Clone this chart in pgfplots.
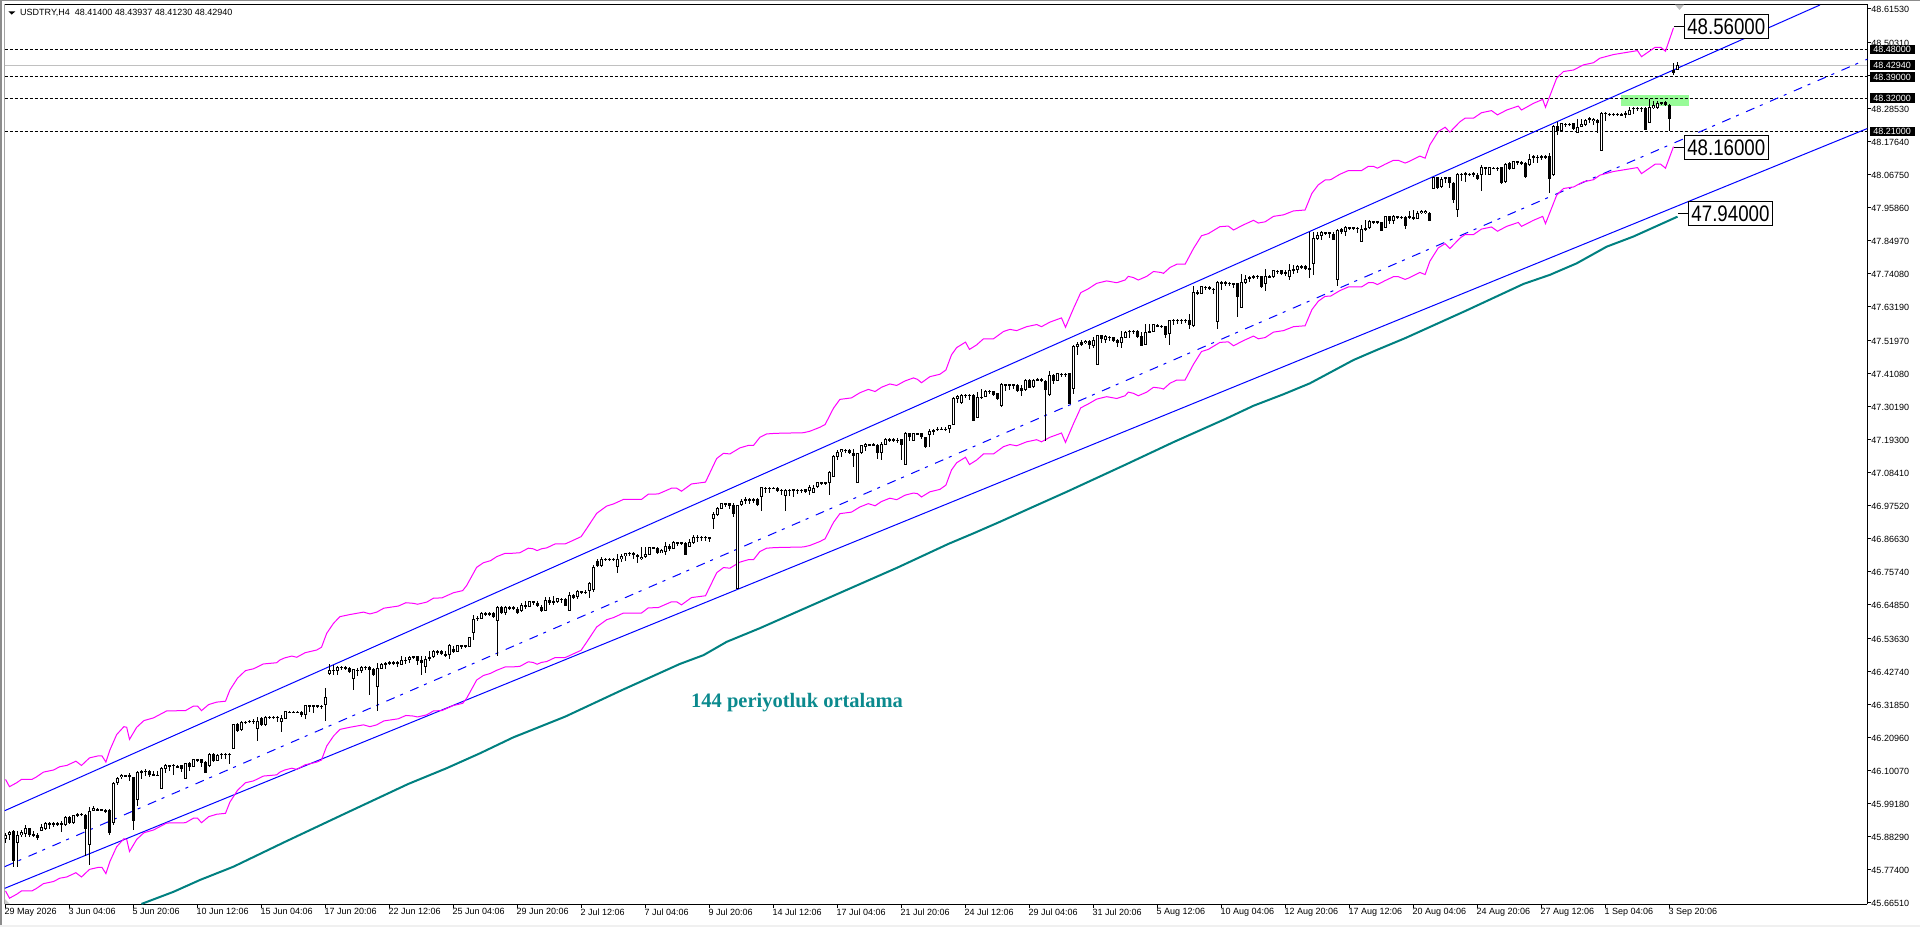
\documentclass[border=0pt]{standalone}
\usepackage{pgfplots}
\usepackage{pgfplotstable}
\usepackage{graphicx}
\usepackage{fontspec}
\setmainfont{Liberation Sans}
\newfontfamily\titlefont{Liberation Serif}
\pgfplotsset{compat=1.18}
\definecolor{envc}{HTML}{FF00FF}
\definecolor{mac}{HTML}{008080}
\definecolor{txc}{HTML}{0B8A8E}
\definecolor{chan}{HTML}{0000FF}
\definecolor{zone}{HTML}{98FB98}
\pgfplotstableread{
n o h l c
0 45.876 45.894 45.861 45.890
1 45.889 45.903 45.872 45.900
2 45.903 45.905 45.784 45.804
3 45.861 45.903 45.782 45.887
4 45.887 45.905 45.883 45.898
5 45.892 45.920 45.883 45.911
6 45.911 45.913 45.883 45.889
7 45.892 45.903 45.883 45.887
8 45.887 45.896 45.872 45.879
9 45.903 45.925 45.901 45.914
10 45.909 45.931 45.905 45.927
11 45.928 45.930 45.909 45.925
12 45.928 45.930 45.916 45.925
13 45.927 45.931 45.918 45.924
14 45.928 45.934 45.900 45.925
15 45.920 45.951 45.918 45.949
16 45.949 45.951 45.925 45.927
17 45.927 45.956 45.925 45.953
18 45.957 45.962 45.949 45.954
19 45.958 45.960 45.953 45.955
20 45.956 45.958 45.819 45.909
21 45.854 45.982 45.791 45.969
22 45.969 45.984 45.967 45.978
23 45.974 45.976 45.969 45.971
24 45.973 45.975 45.967 45.970
25 45.971 45.975 45.960 45.967
26 45.971 45.973 45.887 45.896
27 45.929 46.063 45.920 46.061
28 46.061 46.081 46.052 46.077
29 46.079 46.090 46.072 46.087
30 46.085 46.087 46.079 46.082
31 46.085 46.092 46.066 46.081
32 46.079 46.081 45.905 45.936
33 46.004 46.099 45.984 46.096
34 46.095 46.103 46.074 46.101
35 46.101 46.105 46.083 46.098
36 46.101 46.103 46.079 46.086
37 46.090 46.099 46.083 46.085
38 46.088 46.101 46.083 46.085
39 46.041 46.112 46.041 46.110
40 46.107 46.123 46.094 46.118
41 46.118 46.120 46.101 46.115
42 46.121 46.123 46.088 46.118
43 46.116 46.118 46.112 46.113
44 46.118 46.121 46.096 46.105
45 46.074 46.127 46.074 46.125
46 46.125 46.129 46.099 46.114
47 46.114 46.140 46.112 46.138
48 46.138 46.140 46.129 46.135
49 46.138 46.140 46.114 46.125
50 46.129 46.134 46.094 46.094
51 46.116 46.158 46.112 46.156
52 46.156 46.158 46.132 46.134
53 46.134 46.156 46.132 46.154
54 46.156 46.158 46.140 46.153
55 46.156 46.158 46.140 46.153
56 46.156 46.158 46.123 46.153
57 46.173 46.256 46.173 46.254
58 46.255 46.259 46.228 46.233
59 46.235 46.264 46.233 46.261
60 46.262 46.265 46.255 46.259
61 46.265 46.267 46.257 46.262
62 46.265 46.272 46.255 46.262
63 46.239 46.277 46.200 46.264
64 46.275 46.279 46.250 46.253
65 46.252 46.280 46.248 46.278
66 46.279 46.281 46.270 46.276
67 46.279 46.281 46.270 46.276
68 46.279 46.281 46.261 46.276
69 46.263 46.283 46.228 46.275
70 46.272 46.299 46.272 46.297
71 46.296 46.299 46.290 46.293
72 46.296 46.299 46.290 46.293
73 46.296 46.299 46.290 46.293
74 46.294 46.299 46.277 46.283
75 46.283 46.319 46.272 46.316
76 46.316 46.319 46.294 46.313
77 46.316 46.319 46.292 46.313
78 46.316 46.319 46.308 46.313
79 46.315 46.317 46.305 46.312
80 46.316 46.374 46.266 46.343
81 46.420 46.453 46.418 46.433
82 46.433 46.448 46.418 46.430
83 46.431 46.446 46.418 46.444
84 46.444 46.446 46.433 46.441
85 46.444 46.446 46.433 46.438
86 46.440 46.444 46.422 46.426
87 46.402 46.437 46.367 46.435
88 46.434 46.439 46.413 46.431
89 46.431 46.446 46.424 46.444
90 46.444 46.446 46.433 46.441
91 46.444 46.446 46.349 46.433
92 46.436 46.440 46.415 46.418
93 46.378 46.457 46.299 46.440
94 46.436 46.456 46.435 46.452
95 46.455 46.459 46.435 46.452
96 46.458 46.462 46.451 46.454
97 46.458 46.462 46.448 46.455
98 46.459 46.464 46.444 46.456
99 46.451 46.479 46.448 46.466
100 46.466 46.477 46.453 46.463
101 46.466 46.479 46.455 46.477
102 46.478 46.480 46.468 46.475
103 46.478 46.480 46.451 46.464
104 46.466 46.479 46.418 46.457
105 46.444 46.479 46.424 46.470
106 46.475 46.497 46.464 46.468
107 46.475 46.499 46.473 46.495
108 46.496 46.499 46.482 46.491
109 46.496 46.499 46.482 46.485
110 46.485 46.497 46.479 46.480
111 46.481 46.519 46.470 46.514
112 46.501 46.512 46.490 46.492
113 46.494 46.517 46.492 46.514
114 46.514 46.517 46.501 46.511
115 46.514 46.517 46.506 46.511
116 46.510 46.543 46.508 46.541
117 46.556 46.613 46.532 46.600
118 46.606 46.611 46.594 46.600
119 46.602 46.624 46.600 46.622
120 46.622 46.624 46.613 46.616
121 46.620 46.624 46.613 46.614
122 46.620 46.624 46.607 46.609
123 46.594 46.644 46.479 46.642
124 46.642 46.644 46.618 46.620
125 46.620 46.644 46.613 46.640
126 46.640 46.644 46.631 46.637
127 46.640 46.644 46.631 46.633
128 46.635 46.640 46.618 46.620
129 46.629 46.655 46.624 46.646
130 46.647 46.660 46.635 46.642
131 46.642 46.662 46.640 46.660
132 46.660 46.662 46.649 46.657
133 46.655 46.660 46.640 46.644
134 46.642 46.646 46.624 46.627
135 46.629 46.673 46.627 46.664
136 46.664 46.673 46.646 46.653
137 46.662 46.677 46.649 46.655
138 46.659 46.672 46.655 46.670
139 46.668 46.670 46.655 46.665
140 46.667 46.670 46.645 46.645
141 46.629 46.690 46.629 46.679
142 46.679 46.684 46.666 46.671
143 46.673 46.697 46.668 46.693
144 46.693 46.695 46.684 46.689
145 46.691 46.697 46.686 46.688
146 46.693 46.723 46.671 46.719
147 46.697 46.781 46.690 46.772
148 46.792 46.800 46.774 46.776
149 46.776 46.805 46.774 46.800
150 46.800 46.802 46.792 46.797
151 46.800 46.802 46.792 46.797
152 46.800 46.802 46.792 46.797
153 46.774 46.816 46.754 46.800
154 46.798 46.816 46.789 46.809
155 46.809 46.820 46.794 46.818
156 46.820 46.822 46.809 46.816
157 46.818 46.822 46.800 46.811
158 46.812 46.816 46.787 46.805
159 46.800 46.838 46.796 46.807
160 46.807 46.840 46.803 46.815
161 46.814 46.840 46.811 46.838
162 46.838 46.840 46.834 46.835
163 46.837 46.839 46.819 46.820
164 46.820 46.833 46.818 46.828
165 46.822 46.855 46.814 46.842
166 46.842 46.849 46.825 46.831
167 46.833 46.858 46.831 46.855
168 46.854 46.856 46.842 46.851
169 46.854 46.856 46.844 46.851
170 46.853 46.855 46.814 46.814
171 46.840 46.866 46.838 46.855
172 46.853 46.877 46.849 46.873
173 46.873 46.877 46.855 46.870
174 46.872 46.875 46.860 46.869
175 46.872 46.875 46.860 46.869
176 46.871 46.873 46.855 46.868
177 46.930 46.954 46.899 46.948
178 46.946 46.972 46.941 46.968
179 46.965 46.985 46.963 46.983
180 46.983 46.985 46.970 46.980
181 46.983 46.985 46.963 46.974
182 46.976 46.985 46.937 46.948
183 46.699 46.979 46.699 46.976
184 46.976 46.998 46.974 46.990
185 46.996 47.003 46.981 46.992
186 46.996 47.001 46.981 46.993
187 46.996 47.001 46.983 46.993
188 46.996 47.001 46.976 46.979
189 47.005 47.038 46.957 47.036
190 47.035 47.037 47.016 47.032
191 47.035 47.037 47.018 47.032
192 47.035 47.037 47.031 47.032
193 47.034 47.038 47.020 47.025
194 47.027 47.029 47.009 47.024
195 47.007 47.029 46.959 47.027
196 47.027 47.029 47.007 47.024
197 47.029 47.031 47.003 47.026
198 47.028 47.031 47.014 47.025
199 47.028 47.031 47.016 47.025
200 47.029 47.031 47.018 47.020
201 47.025 47.042 47.012 47.036
202 47.018 47.045 47.016 47.034
203 47.036 47.055 47.034 47.052
204 47.052 47.055 47.042 47.049
205 47.052 47.055 47.045 47.049
206 47.051 47.089 47.012 47.086
207 47.071 47.141 47.069 47.139
208 47.137 47.159 47.126 47.152
209 47.151 47.163 47.137 47.161
210 47.159 47.161 47.148 47.156
211 47.159 47.161 47.146 47.150
212 47.150 47.161 47.104 47.139
213 47.049 47.150 47.049 47.148
214 47.148 47.177 47.146 47.174
215 47.170 47.181 47.155 47.179
216 47.178 47.180 47.174 47.175
217 47.178 47.182 47.172 47.175
218 47.177 47.179 47.128 47.148
219 47.150 47.185 47.126 47.179
220 47.177 47.199 47.174 47.196
221 47.195 47.197 47.185 47.192
222 47.194 47.199 47.185 47.191
223 47.193 47.199 47.183 47.190
224 47.194 47.196 47.126 47.177
225 47.108 47.218 47.108 47.216
226 47.214 47.216 47.188 47.203
227 47.190 47.216 47.190 47.214
228 47.215 47.216 47.211 47.212
229 47.214 47.216 47.196 47.201
230 47.201 47.203 47.166 47.168
231 47.207 47.229 47.170 47.221
232 47.225 47.229 47.210 47.218
233 47.230 47.236 47.221 47.227
234 47.230 47.236 47.225 47.227
235 47.229 47.234 47.223 47.226
236 47.229 47.243 47.216 47.240
237 47.243 47.333 47.243 47.331
238 47.328 47.342 47.313 47.337
239 47.313 47.344 47.311 47.342
240 47.342 47.344 47.331 47.339
241 47.342 47.344 47.324 47.337
242 47.341 47.343 47.254 47.254
243 47.264 47.350 47.264 47.333
244 47.335 47.359 47.328 47.331
245 47.335 47.357 47.333 47.355
246 47.354 47.356 47.344 47.351
247 47.353 47.355 47.339 47.342
248 47.346 47.348 47.326 47.328
249 47.304 47.379 47.302 47.377
250 47.376 47.378 47.355 47.373
251 47.376 47.378 47.357 47.373
252 47.376 47.378 47.361 47.373
253 47.375 47.377 47.353 47.355
254 47.364 47.375 47.337 47.355
255 47.357 47.392 47.355 47.390
256 47.390 47.392 47.364 47.364
257 47.366 47.392 47.364 47.390
258 47.392 47.397 47.386 47.389
259 47.392 47.397 47.383 47.389
260 47.388 47.390 47.190 47.357
261 47.339 47.419 47.337 47.405
262 47.405 47.410 47.377 47.388
263 47.388 47.414 47.386 47.412
264 47.411 47.413 47.399 47.408
265 47.411 47.413 47.401 47.408
266 47.412 47.414 47.311 47.311
267 47.359 47.504 47.344 47.502
268 47.500 47.515 47.471 47.509
269 47.515 47.522 47.504 47.507
270 47.511 47.522 47.509 47.520
271 47.520 47.522 47.493 47.504
272 47.502 47.533 47.496 47.522
273 47.441 47.540 47.441 47.537
274 47.537 47.540 47.511 47.524
275 47.522 47.537 47.513 47.535
276 47.533 47.535 47.520 47.529
277 47.531 47.533 47.518 47.520
278 47.522 47.526 47.500 47.511
279 47.513 47.551 47.496 47.531
280 47.530 47.552 47.527 47.550
281 47.553 47.555 47.530 47.550
282 47.552 47.554 47.541 47.549
283 47.553 47.555 47.530 47.532
284 47.534 47.547 47.503 47.503
285 47.505 47.576 47.505 47.547
286 47.552 47.576 47.545 47.545
287 47.549 47.576 47.547 47.574
288 47.571 47.574 47.565 47.568
289 47.569 47.571 47.563 47.566
290 47.567 47.569 47.530 47.538
291 47.543 47.589 47.505 47.587
292 47.589 47.591 47.571 47.586
293 47.589 47.591 47.576 47.586
294 47.589 47.591 47.576 47.586
295 47.589 47.591 47.578 47.586
296 47.589 47.609 47.558 47.571
297 47.567 47.701 47.565 47.679
298 47.681 47.686 47.670 47.675
299 47.675 47.701 47.673 47.699
300 47.698 47.700 47.688 47.695
301 47.696 47.700 47.686 47.693
302 47.692 47.695 47.675 47.686
303 47.580 47.717 47.558 47.714
304 47.713 47.716 47.686 47.710
305 47.713 47.716 47.701 47.710
306 47.711 47.713 47.701 47.708
307 47.709 47.711 47.695 47.706
308 47.709 47.711 47.598 47.664
309 47.629 47.739 47.629 47.712
310 47.710 47.736 47.706 47.725
311 47.725 47.734 47.712 47.730
312 47.733 47.735 47.723 47.730
313 47.734 47.736 47.723 47.731
314 47.732 47.734 47.695 47.697
315 47.708 47.756 47.684 47.732
316 47.732 47.736 47.725 47.729
317 47.730 47.754 47.728 47.752
318 47.751 47.753 47.739 47.748
319 47.752 47.754 47.736 47.739
320 47.747 47.752 47.732 47.739
321 47.730 47.772 47.719 47.752
322 47.750 47.769 47.739 47.756
323 47.752 47.769 47.743 47.767
324 47.766 47.768 47.756 47.763
325 47.767 47.769 47.752 47.756
326 47.758 47.879 47.728 47.755
327 47.772 47.877 47.737 47.860
328 47.857 47.877 47.853 47.868
329 47.866 47.882 47.853 47.879
330 47.878 47.880 47.868 47.875
331 47.877 47.879 47.860 47.873
332 47.873 47.879 47.853 47.853
333 47.721 47.888 47.701 47.886
334 47.888 47.893 47.873 47.879
335 47.879 47.897 47.866 47.895
336 47.894 47.896 47.884 47.891
337 47.894 47.896 47.884 47.891
338 47.893 47.895 47.875 47.890
339 47.846 47.901 47.846 47.888
340 47.892 47.917 47.884 47.885
341 47.891 47.917 47.888 47.915
342 47.914 47.916 47.904 47.911
343 47.914 47.916 47.904 47.911
344 47.910 47.912 47.882 47.882
345 47.893 47.932 47.891 47.930
346 47.930 47.932 47.904 47.915
347 47.915 47.934 47.906 47.932
348 47.930 47.932 47.921 47.927
349 47.929 47.931 47.925 47.926
350 47.928 47.930 47.889 47.898
351 47.932 47.949 47.922 47.925
352 47.929 47.951 47.920 47.922
353 47.922 47.949 47.920 47.942
354 47.940 47.951 47.938 47.949
355 47.940 47.950 47.938 47.948
356 47.942 47.944 47.914 47.914
357 48.021 48.061 48.021 48.059
358 48.059 48.061 48.021 48.024
359 48.026 48.061 48.024 48.052
360 48.059 48.061 48.039 48.054
361 48.059 48.061 48.024 48.039
362 48.041 48.043 47.975 47.984
363 47.951 48.072 47.929 48.070
364 48.070 48.072 48.046 48.067
365 48.073 48.075 48.043 48.070
366 48.071 48.074 48.063 48.068
367 48.074 48.076 48.059 48.068
368 48.065 48.072 48.050 48.054
369 48.068 48.098 48.015 48.092
370 48.092 48.094 48.065 48.089
371 48.068 48.094 48.065 48.092
372 48.091 48.093 48.085 48.088
373 48.091 48.093 48.081 48.088
374 48.092 48.094 48.037 48.039
375 48.043 48.105 48.041 48.103
376 48.107 48.109 48.083 48.085
377 48.087 48.114 48.085 48.112
378 48.112 48.114 48.101 48.109
379 48.109 48.112 48.098 48.106
380 48.107 48.109 48.057 48.059
381 48.098 48.136 48.096 48.120
382 48.125 48.134 48.105 48.128
383 48.127 48.134 48.107 48.124
384 48.123 48.131 48.116 48.128
385 48.129 48.131 48.118 48.126
386 48.129 48.140 48.008 48.054
387 48.068 48.230 48.063 48.228
388 48.228 48.241 48.200 48.213
389 48.213 48.239 48.211 48.237
390 48.236 48.238 48.224 48.233
391 48.235 48.239 48.228 48.232
392 48.237 48.239 48.217 48.219
393 48.206 48.252 48.206 48.226
394 48.226 48.250 48.224 48.235
395 48.230 48.252 48.228 48.248
396 48.256 48.258 48.237 48.250
397 48.244 48.255 48.230 48.252
398 48.248 48.252 48.206 48.239
399 48.145 48.274 48.145 48.272
400 48.271 48.273 48.244 48.268
401 48.269 48.272 48.265 48.266
402 48.268 48.270 48.264 48.265
403 48.268 48.270 48.263 48.265
404 48.267 48.272 48.261 48.264
405 48.270 48.279 48.255 48.267
406 48.266 48.292 48.263 48.281
407 48.288 48.290 48.268 48.285
408 48.288 48.290 48.277 48.285
409 48.288 48.290 48.274 48.285
410 48.288 48.290 48.215 48.215
411 48.239 48.318 48.237 48.290
412 48.288 48.310 48.283 48.296
413 48.288 48.310 48.285 48.305
414 48.306 48.308 48.299 48.303
415 48.306 48.310 48.296 48.299
416 48.299 48.301 48.211 48.250
417 48.413 48.435 48.398 48.404
418 48.41400 48.43937 48.41230 48.42940
}\candles
\pgfplotstableread{
n u l
0 46.072 45.704
1 46.048 45.680
2.8 46.061 45.693
4 46.072 45.704
6.6 46.072 45.704
7.6 46.079 45.711
9.5 46.096 45.728
12 46.103 45.735
13.6 46.114 45.746
15.3 46.118 45.750
17.6 46.132 45.764
19 46.118 45.750
21 46.143 45.775
23.3 46.150 45.782
24.1 46.150 45.782
25.1 46.129 45.761
26.1 46.169 45.801
27.8 46.220 45.850
29.6 46.246 45.876
30.3 46.244 45.874
31 46.204 45.834
32.8 46.244 45.874
34.6 46.266 45.896
37 46.275 45.905
40.3 46.298 45.928
45 46.299 45.929
47 46.314 45.944
48 46.314 45.944
49 46.299 45.929
50.8 46.319 45.949
52.8 46.327 45.957
55 46.330 45.960
56.1 46.367 45.997
58 46.406 46.036
60 46.431 46.061
62 46.437 46.067
64.5 46.453 46.083
67.8 46.457 46.087
68.6 46.466 46.096
69.8 46.473 46.103
71.6 46.479 46.109
72.8 46.475 46.105
74.9 46.490 46.120
77.8 46.499 46.129
79 46.508 46.136
80.3 46.554 46.182
82 46.587 46.215
83.6 46.609 46.237
86.1 46.616 46.244
89.5 46.624 46.252
91.1 46.618 46.246
92.8 46.624 46.252
94.6 46.637 46.265
98.2 46.644 46.272
100.1 46.655 46.283
102 46.653 46.281
103 46.650 46.278
105.3 46.657 46.285
107 46.670 46.298
109.1 46.671 46.299
112 46.688 46.316
114.3 46.695 46.323
115.3 46.712 46.340
117.8 46.772 46.400
119.5 46.787 46.415
121.3 46.794 46.422
122.8 46.807 46.432
124.9 46.818 46.443
126.5 46.818 46.443
128.6 46.820 46.445
130.7 46.835 46.460
131.9 46.833 46.458
132.9 46.827 46.452
134 46.833 46.458
135.3 46.836 46.461
137.4 46.849 46.474
139.9 46.849 46.474
141.1 46.856 46.481
143.9 46.873 46.498
145.3 46.900 46.525
147.8 46.950 46.575
150.3 46.974 46.599
152 46.981 46.606
154.5 46.996 46.621
159 46.996 46.621
160.7 47.013 46.638
163.2 47.014 46.639
166.5 47.033 46.658
167.8 47.033 46.658
169 47.023 46.648
171.5 47.047 46.672
175 47.053 46.678
177.8 47.131 46.754
179.5 47.148 46.771
181.1 47.146 46.769
183.6 47.166 46.789
185.7 47.174 46.797
187 47.174 46.797
188.6 47.201 46.824
190.3 47.212 46.835
192.4 47.214 46.837
199.5 47.216 46.839
201.1 47.221 46.844
203.6 47.234 46.857
204.9 47.243 46.866
207 47.297 46.920
208.6 47.326 46.949
211.5 47.331 46.954
213.6 47.348 46.971
215.7 47.359 46.982
217.4 47.352 46.975
219 47.366 46.989
221.1 47.377 47.000
222.8 47.372 46.995
224.9 47.387 47.010
227 47.397 47.017
228 47.392 47.015
229 47.381 47.004
231.1 47.401 47.021
233.6 47.409 47.029
235.1 47.423 47.043
236.5 47.473 47.093
237.8 47.497 47.117
240 47.515 47.135
241 47.491 47.111
242.8 47.506 47.126
244.5 47.526 47.146
247 47.526 47.146
249.5 47.550 47.170
251.1 47.557 47.177
252.8 47.553 47.173
255.3 47.566 47.186
257.8 47.573 47.193
259 47.566 47.186
261.1 47.581 47.201
264 47.595 47.215
265 47.564 47.184
267 47.626 47.246
268.8 47.678 47.298
270.7 47.691 47.311
272.8 47.709 47.327
275.3 47.717 47.335
277.8 47.711 47.329
279.9 47.720 47.338
280.7 47.732 47.350
282 47.728 47.346
283.2 47.720 47.338
285.3 47.732 47.350
287 47.748 47.366
288.8 47.745 47.363
289.5 47.742 47.360
291.1 47.761 47.379
292.8 47.772 47.390
294.9 47.772 47.390
297 47.824 47.442
299 47.866 47.484
300.7 47.873 47.491
303.6 47.896 47.514
305.7 47.898 47.516
307 47.885 47.503
309.5 47.902 47.520
312 47.917 47.535
313.2 47.908 47.526
314.9 47.912 47.530
317 47.930 47.548
319.5 47.935 47.553
322 47.948 47.566
324.9 47.951 47.569
326.6 48.006 47.622
328.2 48.034 47.650
329.9 48.050 47.666
331.3 48.051 47.667
333.6 48.069 47.685
335.7 48.081 47.697
339 48.081 47.697
340.7 48.095 47.711
342 48.095 47.711
343 48.089 47.705
344.9 48.102 47.718
347 48.115 47.731
348.2 48.115 47.731
349.9 48.106 47.722
350.7 48.110 47.726
353.6 48.129 47.745
354.9 48.122 47.738
356.1 48.166 47.782
358.2 48.210 47.826
359.9 48.224 47.840
361.1 48.208 47.824
363.6 48.242 47.858
364.9 48.254 47.870
367 48.254 47.870
369 48.272 47.888
371.5 48.279 47.895
373 48.265 47.881
375.3 48.281 47.897
378.2 48.294 47.910
379 48.281 47.897
382 48.303 47.917
384.3 48.316 47.930
385 48.290 47.906
387.8 48.386 48.000
389.5 48.408 48.022
392 48.413 48.027
394.5 48.430 48.044
397 48.437 48.051
398.6 48.452 48.066
402 48.464 48.078
408 48.477 48.091
409 48.457 48.071
412.4 48.488 48.102
413.8 48.488 48.102
415 48.475 48.089
417 48.552 48.160
}\envelope
\pgfplotstableread{
n p
34 45.661
42 45.701
48.6 45.740
57 45.784
69.9 45.866
85 45.960
100.7 46.057
110.3 46.109
118.6 46.158
127 46.211
139.9 46.279
154 46.366
168.6 46.453
174.5 46.482
180.3 46.526
188.6 46.571
197 46.620
209.9 46.695
223 46.771
235.7 46.849
242 46.884
248.6 46.922
257 46.972
265.3 47.021
279.9 47.110
292 47.185
304.9 47.261
312 47.305
319.5 47.343
326.1 47.379
337 47.456
342.8 47.489
349.9 47.528
365 47.618
379.5 47.707
386.1 47.737
392.8 47.775
400.3 47.830
406.9 47.863
418 47.929
}\mavg
\begin{document}
\begin{tikzpicture}[x=1pt,y=1pt]
\useasboundingbox (-4.7,-22.7) rectangle (1915.3,904.3);
\fill[gray!90] (-4.7,-22.7) rectangle (-2.7,904.3);
\fill[gray!90] (-4.7,902.8) rectangle (1915.3,904.3);
\fill[gray!12] (-4.7,-22.7) rectangle (1915.3,-20.7);
\begin{axis}[
  at={(0pt,0pt)}, anchor=south west,
  scale only axis, width=1862.6pt, height=899.8pt,
  xmin=-0.2, xmax=465.45, ymin=45.6598, ymax=48.6292,
  clip mode=individual,
  axis line style={line width=1pt,black},
  tick align=outside, major tick length=4pt,
  tick style={line width=1pt,black},
  axis x line*=bottom, axis y line*=right,
  xtick={0,16,32,48,64,80,96,112,128,144,160,176,192,208,224,240,256,272,288,304,320,336,352,368,384,400,416},
  xticklabels={29 May 2026,3 Jun 04:06,5 Jun 20:06,10 Jun 12:06,15 Jun 04:06,17 Jun 20:06,22 Jun 12:06,25 Jun 04:06,29 Jun 20:06,2 Jul 12:06,7 Jul 04:06,9 Jul 20:06,14 Jul 12:06,17 Jul 04:06,21 Jul 20:06,24 Jul 12:06,29 Jul 04:06,31 Jul 20:06,5 Aug 12:06,10 Aug 04:06,12 Aug 20:06,17 Aug 12:06,20 Aug 04:06,24 Aug 20:06,27 Aug 12:06,1 Sep 04:06,3 Sep 20:06},
  x tick label style={font=\fontsize{9}{10}\selectfont, anchor=north west, xshift=-2pt, yshift=1pt, inner sep=1pt},
  ytick={48.6153,48.5031,48.3942,48.2853,48.1764,48.0675,47.9586,47.8497,47.7408,47.6319,47.5197,47.4108,47.3019,47.1930,47.0841,46.9752,46.8663,46.7574,46.6485,46.5363,46.4274,46.3185,46.2096,46.1007,45.9918,45.8829,45.7740,45.6651},
  yticklabels={48.61530,48.50310,48.39420,48.28530,48.17640,48.06750,47.95860,47.84970,47.74080,47.63190,47.51970,47.41080,47.30190,47.19300,47.08410,46.97520,46.86630,46.75740,46.64850,46.53630,46.42740,46.31850,46.20960,46.10070,45.99180,45.88290,45.77400,45.66510},
  y tick label style={font=\fontsize{9}{10}\selectfont, anchor=west, xshift=-1pt, yshift=-0.5pt, inner sep=1pt},
]
% outer frame sides
\addplot[draw=black,line width=1pt,forget plot] coordinates {(-0.2,45.6598) (-0.2,48.6292) (465.45,48.6292)};
% demand zone
\addplot[fill=zone,draw=none,forget plot] coordinates {(403.9,48.3305) (420.9,48.3305) (420.9,48.2942) (403.9,48.2942)} --cycle;
% levels
\addplot[black,line width=1pt,dash pattern=on 3pt off 2pt] coordinates {(-0.2,48.48) (465.45,48.48)};
\addplot[black,line width=1pt,dash pattern=on 3pt off 2pt] coordinates {(-0.2,48.39) (465.45,48.39)};
\addplot[black,line width=1pt,dash pattern=on 3pt off 2pt] coordinates {(-0.2,48.32) (465.45,48.32)};
\addplot[black,line width=1pt,dash pattern=on 3pt off 2pt] coordinates {(-0.2,48.21) (465.45,48.21)};
\addplot[color={rgb,255:red,192;green,192;blue,192},line width=1pt] coordinates {(-0.2,48.4294) (465.45,48.4294)};
% channel
\addplot[chan,line width=1pt] coordinates {(-0.2,45.9687) (453.6,48.6275)};
\addplot[chan,line width=1pt] coordinates {(-0.2,45.7125) (465.45,48.2199)};
\addplot[chan,line width=1pt,dash pattern=on 9pt off 6pt on 3pt off 8pt] coordinates {(-0.2,45.7840) (465.45,48.4487)};
% 144 period average
\addplot[mac,line width=2pt] table[x=n,y=p] {\mavg};
% envelopes
\addplot[envc,line width=1pt] table[x=n,y=u] {\envelope};
\addplot[envc,line width=1pt] table[x=n,y=l] {\envelope};
% candles: wicks, bodies, hollow interior of rising candles
\addplot[draw=none,forget plot,error bars/.cd,y dir=both,y explicit,error mark=none,error bar style={draw=black,solid,line width=1pt}]
  table[x=n,y=c,y error plus expr={\thisrow{h}-\thisrow{c}},y error minus expr={\thisrow{c}-\thisrow{l}}] {\candles};
\addplot[draw=none,forget plot,error bars/.cd,y dir=both,y explicit,error mark=none,error bar style={draw=black,solid,line width=3pt}]
  table[x=n,y expr={(\thisrow{o}+\thisrow{c})/2},y error expr={abs(\thisrow{c}-\thisrow{o})/2}] {\candles};
\addplot[draw=none,forget plot,x filter/.expression={\thisrow{c}>\thisrow{o} ? x : nan},error bars/.cd,y dir=both,y explicit,error mark=none,error bar style={draw=white,solid,line width=1pt}]
  table[x=n,y expr={(\thisrow{o}+\thisrow{c})/2},y error expr={max(0,(\thisrow{c}-\thisrow{o})/2-0.0033)}] {\candles};
% annotation leaders
\addplot[black,line width=1pt] coordinates {(417.1,48.557) (419.7,48.557)};
\addplot[black,line width=1pt] coordinates {(417.1,48.158) (419.7,48.158)};
\addplot[black,line width=1pt] coordinates {(418.2,47.940) (420.8,47.940)};
\node[draw=black,line width=1pt,fill=white,minimum width=84pt,minimum height=24pt,inner sep=0pt,font=\fontsize{18.7}{20}\selectfont] at (axis cs:430.2,48.557) {\scalebox{1}[1.2]{48.56000}};
\node[draw=black,line width=1pt,fill=white,minimum width=84pt,minimum height=24pt,inner sep=0pt,font=\fontsize{18.7}{20}\selectfont] at (axis cs:430.2,48.158) {\scalebox{1}[1.2]{48.16000}};
\node[draw=black,line width=1pt,fill=white,minimum width=84pt,minimum height=24pt,inner sep=0pt,font=\fontsize{18.7}{20}\selectfont] at (axis cs:431.25,47.939) {\scalebox{1}[1.2]{47.94000}};
\node[text=txc,font=\fontsize{20.5}{22}\titlefont\bfseries,inner sep=0pt] at (axis cs:197.9,46.327) {144 periyotluk ortalama};
% price flags
\node[fill=black,text=white,anchor=west,minimum width=45pt,minimum height=9.4pt,inner sep=0pt,font=\fontsize{9}{10}\selectfont] at (axis cs:466,48.48) {48.48000};
\node[fill=black,text=white,anchor=west,minimum width=45pt,minimum height=9.4pt,inner sep=0pt,font=\fontsize{9}{10}\selectfont] at (axis cs:466,48.4294) {48.42940};
\node[fill=black,text=white,anchor=west,minimum width=45pt,minimum height=9.4pt,inner sep=0pt,font=\fontsize{9}{10}\selectfont] at (axis cs:466,48.39) {48.39000};
\node[fill=black,text=white,anchor=west,minimum width=45pt,minimum height=9.4pt,inner sep=0pt,font=\fontsize{9}{10}\selectfont] at (axis cs:466,48.32) {48.32000};
\node[fill=black,text=white,anchor=west,minimum width=45pt,minimum height=9.4pt,inner sep=0pt,font=\fontsize{9}{10}\selectfont] at (axis cs:466,48.21) {48.21000};
\end{axis}
\fill[black] (3.6,893) -- (10.6,893) -- (7.1,889.7) -- cycle;
\node[anchor=west,inner sep=0pt,font=\fontsize{9}{10}\selectfont] at (15.3,891.6) {USDTRY,H4\ \ 48.41400 48.43937 48.41230 48.42940};
\fill[gray!50] (1670.3,899.6) -- (1679.3,899.6) -- (1674.8,894.3) -- cycle;
\fill[gray!40] (0.3,0.3) -- (5.3,0.3) -- (0.3,5.3) -- cycle;
\end{tikzpicture}
\end{document}
